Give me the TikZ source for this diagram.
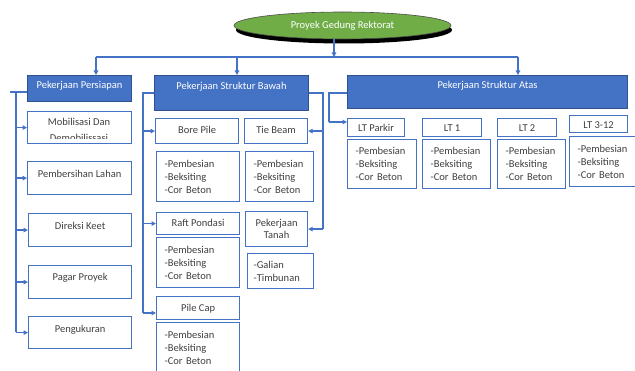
\documentclass[tikz,border=0pt]{standalone}
\usepackage{fontspec}
\setmainfont{Carlito}
\usetikzlibrary{shapes.geometric,arrows.meta}
\definecolor{bl}{HTML}{4472C4}
\definecolor{bld}{HTML}{2F528F}
\definecolor{txt}{HTML}{404040}
\definecolor{grn}{HTML}{70AD47}
\begin{document}
\begin{tikzpicture}[x=1pt,y=-1pt,
  conn/.style={draw=bl, line width=1.3pt},
  tip/.style={-{Triangle[length=4.5pt,width=4.5pt]}},
  hdr/.style={draw=bld, fill=bl, line width=0.9pt, text=white, inner sep=0pt, anchor=north west, font=\fontsize{10.5}{12}\selectfont},
  wbox/.style={draw=bl, line width=1.2pt, fill=white, text=txt, inner sep=0pt, anchor=north west, font=\fontsize{10.5}{12}\selectfont},
  lst/.style={wbox, align=left, inner xsep=8pt, font=\fontsize{10.5}{13}\selectfont},
  ctr/.style={wbox, align=center, font=\fontsize{10.5}{12}\selectfont}]
\useasboundingbox (0,0) rectangle (635,371);
% root
\fill[black] (344,30) ellipse [x radius=108pt, y radius=13.5pt];
\node[ellipse, draw=black!70, line width=0.6pt, fill=grn, minimum width=217pt, minimum height=27pt, inner sep=0pt, text=white, font=\fontsize{10.5}{12}\selectfont] (root) at (342.5,25.5) {Proyek Gedung Rektorat};
% headers
\node[hdr, minimum width=104pt, text height=13.5pt, text depth=12.5pt] (pers) at (27,75) {Pekerjaan Persiapan};
\node[hdr, minimum width=154pt, text height=14.5pt, text depth=20.5pt] (bawah) at (154,75) {Pekerjaan Struktur Bawah};
\node[hdr, minimum width=280pt, text height=13.5pt, text depth=19.5pt] (atas) at (347,75) {Pekerjaan Struktur Atas};
% persiapan children
\node[wbox, minimum width=104pt, minimum height=32pt] (mob) at (27,111) {};
\begin{scope}
\clip (27,111) rectangle (131,138.5);
\node[text=txt, align=center, anchor=north, inner sep=0pt, font=\fontsize{10.5}{16}\selectfont] (mobt) at (79,118) {Mobilisasi Dan\\Demobilissasi};
\end{scope}
\node[wbox, minimum width=104pt, text height=15.5pt, text depth=17.5pt] (pem) at (27,161) {Pembersihan Lahan};
\node[wbox, minimum width=103pt, text height=15.5pt, text depth=17.5pt] (dir) at (28,213) {Direksi Keet};
\node[wbox, minimum width=103pt, text height=14.5pt, text depth=18.5pt] (pag) at (28,265) {Pagar Proyek};
\node[wbox, minimum width=103pt, text height=15.5pt, text depth=16.5pt] (pen) at (28,316) {Pengukuran};
% bawah children
\node[wbox, minimum width=83pt, text height=14.5pt, text depth=10.5pt] (bore) at (155,118) {Bore Pile};
\node[wbox, minimum width=63pt, text height=14.5pt, text depth=10.5pt] (tie) at (244,118) {Tie Beam};
\node[lst, text width=67pt, minimum height=50pt] (bored) at (156,151) {-Pembesian\\-Beksiting\\-Cor Beton};
\node[lst, text width=52pt, minimum height=50pt] (tied) at (245,151) {-Pembesian\\-Beksiting\\-Cor Beton};
\node[wbox, minimum width=83pt, text height=13.5pt, text depth=8.5pt] (raft) at (156,212) {Raft Pondasi};
\node[lst, text width=67pt, minimum height=50pt] (raftd) at (156,237) {-Pembesian\\-Beksiting\\-Cor Beton};
\node[ctr, minimum width=62pt, minimum height=35pt] (tanah) at (245,211) {Pekerjaan\\Tanah};
\node[lst, inner xsep=6pt, text width=54pt, minimum height=35pt] (galian) at (247,253) {-Galian\\-Timbunan};
\node[wbox, minimum width=83pt, text height=14.5pt, text depth=8.5pt] (pile) at (156,296) {Pile Cap};
\node[lst, text width=67pt, minimum height=50pt] (piled) at (156,322) {-Pembesian\\-Beksiting\\-Cor Beton};
% atas children
\node[wbox, minimum width=57pt, text height=12.5pt, text depth=5.5pt] (ltp) at (347,118) {LT Parkir};
\node[wbox, minimum width=59pt, text height=12.5pt, text depth=5.5pt] (lt1) at (422,118) {LT 1};
\node[wbox, minimum width=59pt, text height=12.5pt, text depth=5.5pt] (lt2) at (497,118) {LT 2};
\node[wbox, minimum width=58pt, text height=12.5pt, text depth=4.5pt] (lt3) at (569,115) {LT 3-12};
\node[lst, text width=53pt, minimum height=49pt] (ltpd) at (347,139) {-Pembesian\\-Beksiting\\-Cor Beton};
\node[lst, text width=52pt, minimum height=49pt] (lt1d) at (422,139) {-Pembesian\\-Beksiting\\-Cor Beton};
\node[lst, text width=52pt, minimum height=49pt] (lt2d) at (497,139) {-Pembesian\\-Beksiting\\-Cor Beton};
\node[lst, text width=50pt, minimum height=50pt] (lt3d) at (569,136) {-Pembesian\\-Beksiting\\-Cor Beton};
% connectors: top bus
\coordinate (bus) at (334,57);
\coordinate (bA) at (96,57);
\coordinate (bB) at (237,57);
\coordinate (bC) at (518,57);
\draw[conn,tip] (root.south -| bus) -- (bus);
\draw[conn] (bA) -- (bC);
\draw[conn,tip] (bA) -- (bA |- pers.north);
\draw[conn,tip] (bB) -- (bB |- bawah.north);
\draw[conn,tip] (bC) -- (bC |- atas.north);
% persiapan spine
\coordinate (pA) at (16,92);
\coordinate (pZ) at (16,332);
\draw[conn] (10,92) -- (pA -| pers.west);
\draw[conn] (pA) -- (pZ);
\foreach \n in {mob,pem,dir,pag,pen} \draw[conn,tip] (pA |- \n.west) -- (\n.west);
% bawah left spine
\coordinate (qA) at (143,93);
\coordinate (qE) at (143,313);
\draw[conn] (qA -| bawah.west) -- (qA) -- (qE);
\draw[conn,tip] (qA |- bore.west) -- (bore.west);
\draw[conn,tip] (qA |- raft.west) -- (raft.west);
\draw[conn,tip] (qE) -- (qE -| pile.west);
% bawah right spine
\coordinate (rA) at (323,93);
\draw[conn] (rA -| bawah.east) -- (rA) -- (rA |- tanah.east);
\draw[conn,tip] (rA |- tie.east) -- (tie.east);
\draw[conn,tip] (rA |- tanah.east) -- (tanah.east);
% atas left
\coordinate (sA) at (329,93);
\coordinate (sB) at (329,122);
\draw[conn] (sA -| atas.west) -- (sA) -- (sB);
\draw[conn,tip] (sB) -- (sB -| ltp.west);
\end{tikzpicture}
\end{document}
